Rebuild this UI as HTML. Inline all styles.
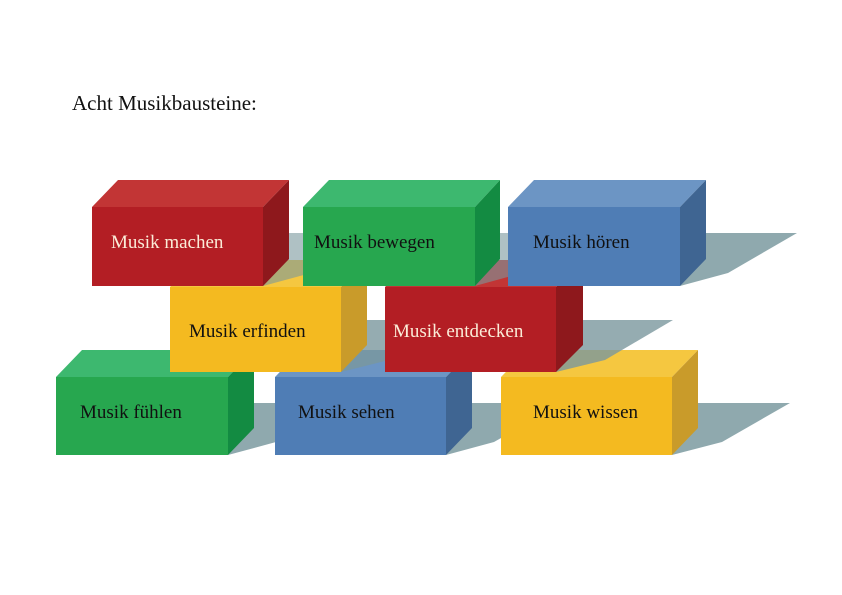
<!DOCTYPE html>
<html><head><meta charset="utf-8"><style>
html,body{margin:0;padding:0;background:#fff;}
svg{display:block;}
text{font-family:"Liberation Serif",serif;}
</style></head><body>
<svg width="842" height="595" viewBox="0 0 842 595" xmlns="http://www.w3.org/2000/svg">
<rect width="842" height="595" fill="#fff"/>
<text x="72" y="110" font-size="21" fill="#111">Acht Musikbausteine:</text>

<!-- Row 3 (back) shadows -->
<g fill="#8fa9ae">
<polygon points="254,403 345,403 276,442 228,455"/>
<polygon points="472,403 563,403 494,442 446,455"/>
<polygon points="698,403 790,403 722,442 672,455"/>
</g>
<!-- Row 3 boxes -->
<polygon points="56,377 82,350 254,350 228,377" fill="#3db86f"/>
<polygon points="228,377 254,350 254,428 228,455" fill="#138b42"/>
<rect x="56" y="377" width="172" height="78" fill="#27a74f"/>
<text x="80" y="418" font-size="19" fill="#111">Musik fühlen</text>

<polygon points="275,377 301,350 472,350 446,377" fill="#6c95c4"/>
<polygon points="446,377 472,350 472,428 446,455" fill="#3f6592"/>
<rect x="275" y="377" width="171" height="78" fill="#4f7db5"/>
<text x="298" y="418" font-size="19" fill="#111">Musik sehen</text>

<polygon points="501,377 527,350 698,350 672,377" fill="#f5c740"/>
<polygon points="672,377 698,350 698,428 672,455" fill="#c99b2a"/>
<rect x="501" y="377" width="171" height="78" fill="#f4ba20"/>
<text x="533" y="418" font-size="19" fill="#111">Musik wissen</text>

<!-- Row 2 shadows -->
<g fill="#7a979d" opacity="0.8">
<polygon points="367,320 458,320 389,360 341,372"/>
<polygon points="583,320 673,320 605,360 556,372"/>
</g>
<!-- Row 2 boxes -->
<polygon points="170,287 196,260 367,260 341,287" fill="#f5c740"/>
<polygon points="341,287 367,260 367,345 341,372" fill="#c99b2a"/>
<rect x="170" y="287" width="171" height="85" fill="#f4ba20"/>
<text x="189" y="337" font-size="19" fill="#111">Musik erfinden</text>

<polygon points="385,287 411,260 583,260 556,287" fill="#c23535"/>
<polygon points="556,287 583,260 583,345 556,372" fill="#8e181c"/>
<rect x="385" y="287" width="171" height="85" fill="#b31e24"/>
<text x="393" y="337" font-size="19" fill="#fbecd8">Musik entdecken</text>

<!-- Row 1 shadows -->
<g fill="#7a979d" opacity="0.6">
<polygon points="289,233 380,233 311,273 263,286"/>
<polygon points="500,233 591,233 522,273 475,286"/>
</g>
<polygon points="706,233 797,233 728,273 680,286" fill="#8fa9ae"/>
<!-- Row 1 boxes (front) -->
<polygon points="92,207 118,180 289,180 263,207" fill="#c23535"/>
<polygon points="263,207 289,180 289,259 263,286" fill="#8e181c"/>
<rect x="92" y="207" width="171" height="79" fill="#b31e24"/>
<text x="111" y="248" font-size="19" fill="#fbecd8">Musik machen</text>

<polygon points="303,207 329,180 500,180 475,207" fill="#3db86f"/>
<polygon points="475,207 500,180 500,259 475,286" fill="#138b42"/>
<rect x="303" y="207" width="172" height="79" fill="#27a74f"/>
<text x="314" y="248" font-size="19" fill="#111">Musik bewegen</text>

<polygon points="508,207 534,180 706,180 680,207" fill="#6c95c4"/>
<polygon points="680,207 706,180 706,259 680,286" fill="#3f6592"/>
<rect x="508" y="207" width="172" height="79" fill="#4f7db5"/>
<text x="533" y="248" font-size="19" fill="#111">Musik hören</text>
</svg>
</body></html>
